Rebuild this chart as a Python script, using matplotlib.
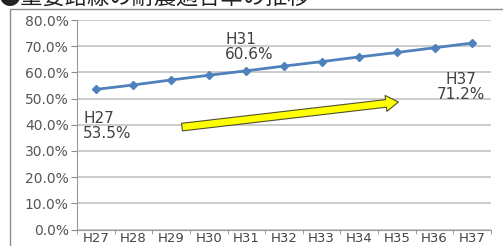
import matplotlib.pyplot as plt
from matplotlib.patches import Rectangle

years = ['H27', 'H28', 'H29', 'H30', 'H31', 'H32', 'H33', 'H34', 'H35', 'H36', 'H37']
rate = [53.5, 55.2, 57.1, 58.9, 60.6, 62.4, 64.1, 65.9, 67.6, 69.4, 71.2]
yticks = [0, 10, 20, 30, 40, 50, 60, 70, 80]
title = '●重要路線の耐震適合率の推移'

fig = plt.figure(figsize=(5.03, 2.46), dpi=100)

# outer frame, running off the right and bottom of the picture
fig.patches.append(Rectangle((10 / 503, -0.1), 1.1, 1 - 9 / 246 + 0.1,
                             transform=fig.transFigure, fill=False,
                             ec='#8c8c8c', lw=1.0))
fig.text(-0.002, 1 - 5 / 246, title, fontsize=16, va='baseline', ha='left',
         color='#222222', family=['Noto Sans CJK JP', 'DejaVu Sans'])

ax = fig.add_axes([77 / 503, 1 - 229.5 / 246, 414 / 503, 209.5 / 246])
x = list(range(len(years)))
ax.plot(x, rate, color='#4f81bd', lw=2, marker='D', ms=4.5, zorder=3)

ax.set_xlim(-0.5, len(years) - 0.5)
ax.set_ylim(0, 80)
ax.set_yticks(yticks)
ax.set_yticklabels([f'{v:.1f}%' for v in yticks])
ax.set_xticks(x)
ax.set_xticklabels(years)
ax.set_xticks([i - 0.5 for i in range(len(years) + 1)], minor=True)
ax.tick_params(axis='x', which='major', length=0, pad=1.5, labelsize=9.5, labelcolor='#444444')
ax.tick_params(axis='x', which='minor', length=3, color='#8c8c8c')
ax.tick_params(axis='y', length=4, color='#8c8c8c', pad=2, labelsize=10, labelcolor='#555555')
ax.grid(axis='y', color='#c4c4c4', lw=1.2)
ax.set_axisbelow(True)
for s in ['top', 'right']:
    ax.spines[s].set_visible(False)
for s in ['left', 'bottom']:
    ax.spines[s].set_color('#9a9a9a')

lab = dict(fontsize=11, color='#404040', linespacing=1.0, va='top')
ax.text(-0.34, 45.2, f'{years[0]}\n{rate[0]}%', ha='left', **lab)
ax.text(3.44, 75.3, f'{years[4]}\n{rate[4]}%', ha='left', **lab)
ax.text(9.69, 60.0, f'{years[10]}\n{rate[10]}%', ha='center', multialignment='center', **lab)

ax.annotate('', xy=(8.04, 48.7), xytext=(2.29, 39.1),
            arrowprops=dict(arrowstyle='simple,head_width=1.15,tail_width=0.55,head_length=0.9',
                            fc='#ffff00', ec='#505030', lw=0.8, mutation_scale=10,
                            shrinkA=0, shrinkB=0))

fig.savefig('out.png', dpi=100)
